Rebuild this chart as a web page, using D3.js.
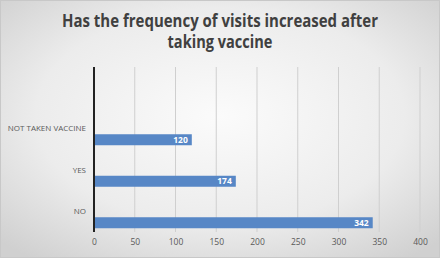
<!DOCTYPE html>
<html>
<head>
<meta charset="utf-8">
<script src="https://cdn.jsdelivr.net/npm/d3@7"></script>
<style>
  body { margin: 0; background: #fff; }
  svg { display: block; }
</style>
</head>
<body>
<div id="chart"></div>
<script>
const categories = ["NO", "YES", "NOT TAKEN VACCINE"];
const values = [342, 174, 120];
const ticks = [0, 50, 100, 150, 200, 250, 300, 350, 400];
const titleLines = ["Has the frequency of visits increased after", "taking vaccine"];

const width = 440, height = 258;
const svg = d3.select("#chart").append("svg").attr("width", width).attr("height", height);

const defs = svg.append("defs");
const grad = defs.append("radialGradient").attr("id", "bg").attr("cx", "50%").attr("cy", "45%").attr("r", "70%");
grad.append("stop").attr("offset", "0%").attr("stop-color", "#fbfbfb");
grad.append("stop").attr("offset", "60%").attr("stop-color", "#ececec");
grad.append("stop").attr("offset", "100%").attr("stop-color", "#d0d0d0");

svg.append("rect").attr("x", 0.5).attr("y", 0.5).attr("width", width - 1).attr("height", height - 1)
  .attr("fill", "url(#bg)").attr("stroke", "#c8c8c8");

const plotTop = 67, plotBottom = 232;
const x = d3.scaleLinear().domain([0, 400]).range([94, 420]);
const y = d3.scaleBand().domain(categories).range([plotBottom, plotBottom - 3 * 41.5]).padding(0);

// gridlines
svg.append("g").selectAll("line").data(ticks.slice(1)).join("line")
  .attr("x1", d => x(d)).attr("x2", d => x(d))
  .attr("y1", plotTop).attr("y2", plotBottom)
  .attr("stroke", "#cfcfcf").attr("stroke-width", 1);

// bars
const barH = 11;
svg.append("g").selectAll("rect").data(categories).join("rect")
  .attr("x", x(0))
  .attr("y", (d) => y(d) + y.bandwidth() / 2 + 6)
  .attr("width", (d, i) => x(values[i]) - x(0))
  .attr("height", barH)
  .attr("fill", "#5787c6");

// data labels
svg.append("g").selectAll("text").data(categories).join("text")
  .attr("x", (d, i) => x(values[i]) - 4)
  .attr("y", d => y(d) + y.bandwidth() / 2 + 6 + barH / 2)
  .attr("dy", "0.35em")
  .attr("text-anchor", "end")
  .attr("fill", "#fff")
  .attr("font-family", "Open Sans, sans-serif")
  .attr("font-weight", 700)
  .attr("font-size", 8.5)
  .text((d, i) => values[i]);

// value axis vertical line
svg.append("line").attr("x1", x(0)).attr("x2", x(0)).attr("y1", plotTop).attr("y2", plotBottom)
  .attr("stroke", "#222").attr("stroke-width", 2);

// category labels
svg.append("g").selectAll("text").data(categories).join("text")
  .attr("x", 86)
  .attr("y", d => y(d) + y.bandwidth() / 2)
  .attr("dy", "0.35em")
  .attr("text-anchor", "end")
  .attr("fill", "#595959")
  .attr("font-family", "Open Sans, sans-serif")
  .attr("font-size", 8)
  .text(d => d);

// x tick labels
const xAxis = d3.axisBottom(x).tickValues(ticks).tickSize(0).tickPadding(0);
const gx = svg.append("g").attr("transform", `translate(0,${plotBottom + 7})`).call(xAxis);
gx.select(".domain").remove();
gx.selectAll("text")
  .attr("fill", "#595959")
  .attr("font-family", "Open Sans, sans-serif")
  .attr("font-size", 8.5)
  .attr("dy", "0.71em");

// title
const titleWidths = [316, 105];
svg.append("g").selectAll("text").data(titleLines).join("text")
  .attr("x", width / 2)
  .attr("y", (d, i) => 27 + i * 21)
  .attr("text-anchor", "middle")
  .attr("fill", "#404040")
  .attr("font-family", "Open Sans, sans-serif")
  .attr("font-weight", 700)
  .attr("font-size", 17)
  .attr("textLength", (d, i) => titleWidths[i])
  .attr("lengthAdjust", "spacingAndGlyphs")
  .text(d => d);
</script>
</body>
</html>
